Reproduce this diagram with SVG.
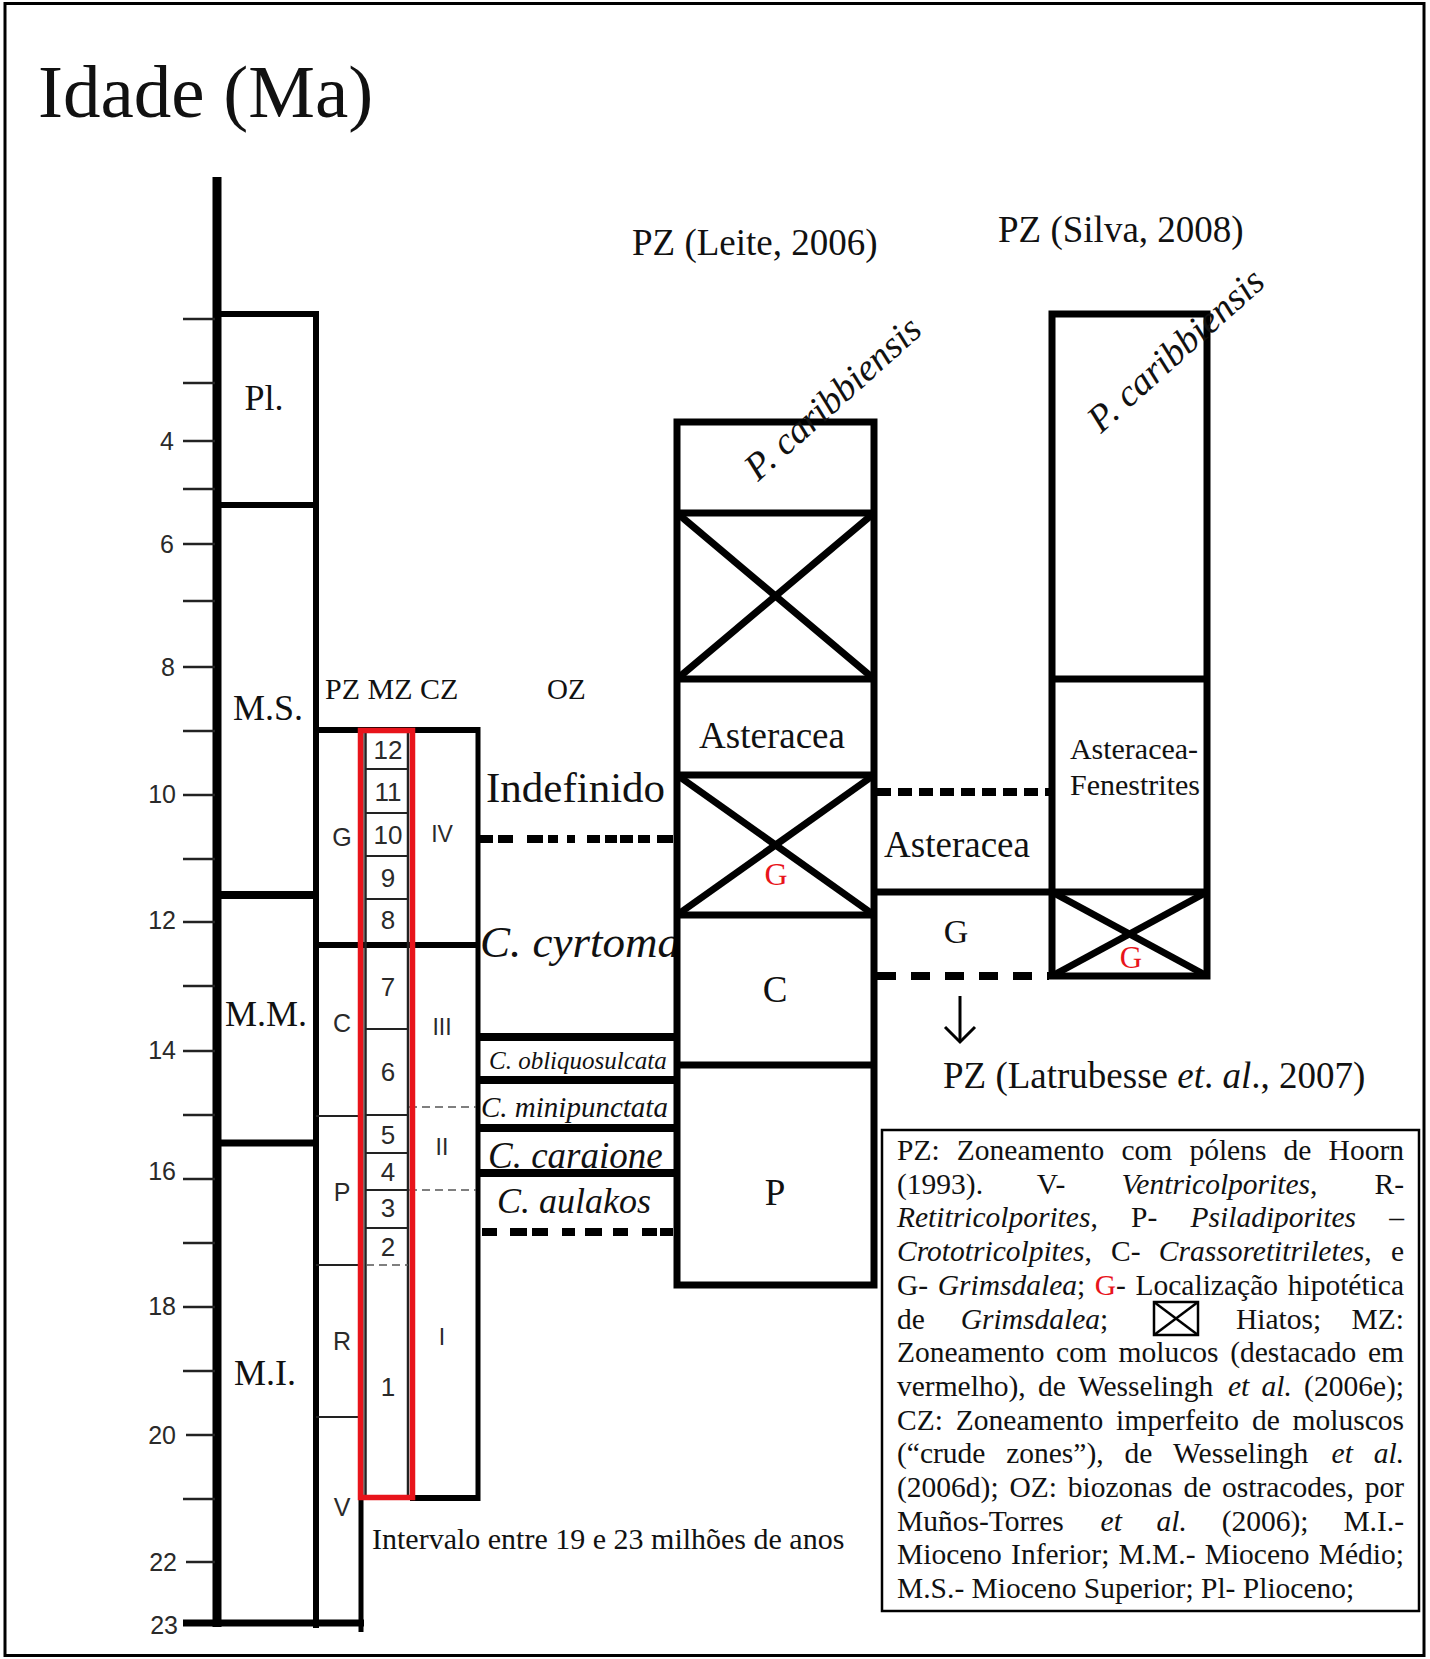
<svg xmlns="http://www.w3.org/2000/svg" width="1430" height="1659" viewBox="0 0 1430 1659">
<style>
.s{font-family:"Liberation Serif","Times New Roman",serif;fill:#111}
.a{font-family:"Liberation Sans",Arial,sans-serif;fill:#2a2a2a}
.i{font-style:italic}
.k{stroke:#000;fill:none}
.tk{stroke:#222;stroke-width:2.5}
.thin{stroke:#222;stroke-width:2;fill:none}
.gd{stroke:#555;stroke-width:1.6;stroke-dasharray:8 5;fill:none}
.red{fill:#e8141b}
.mid{text-anchor:middle}
.end{text-anchor:end}
</style>
<rect width="1430" height="1659" fill="#fff"/>
<rect id="frame" x="5" y="3.5" width="1419" height="1652" fill="none" stroke="#000" stroke-width="3"/>
<text id="title" class="s" x="38" y="117" font-size="75">Idade (Ma)</text>

<g id="axis">
<line class="k" x1="217" y1="177" x2="217" y2="1627" stroke-width="9"/>
<g class="tk">
<line x1="183" y1="319" x2="215" y2="319"/><line x1="183" y1="383" x2="215" y2="383"/><line x1="183" y1="441" x2="215" y2="441"/><line x1="183" y1="489" x2="215" y2="489"/><line x1="183" y1="544" x2="215" y2="544"/><line x1="183" y1="601" x2="215" y2="601"/><line x1="183" y1="667" x2="215" y2="667"/><line x1="183" y1="731" x2="215" y2="731"/><line x1="183" y1="795" x2="215" y2="795"/><line x1="183" y1="859" x2="215" y2="859"/><line x1="183" y1="922" x2="215" y2="922"/><line x1="183" y1="986" x2="215" y2="986"/><line x1="183" y1="1051" x2="215" y2="1051"/><line x1="183" y1="1115" x2="215" y2="1115"/><line x1="183" y1="1179" x2="215" y2="1179"/><line x1="183" y1="1243" x2="215" y2="1243"/><line x1="183" y1="1307" x2="215" y2="1307"/><line x1="183" y1="1371" x2="215" y2="1371"/><line x1="186" y1="1435" x2="215" y2="1435"/><line x1="183" y1="1499" x2="215" y2="1499"/><line x1="186" y1="1562" x2="215" y2="1562"/>
</g>
<g class="a" font-size="25">
<text class="mid" x="167" y="450">4</text><text class="mid" x="167" y="553">6</text><text class="mid" x="168" y="676">8</text>
<text class="end" x="176" y="803">10</text><text class="end" x="176" y="929">12</text><text class="end" x="176" y="1059">14</text><text class="end" x="176" y="1180">16</text><text class="end" x="176" y="1315">18</text><text class="end" x="176" y="1444">20</text><text class="end" x="177" y="1571">22</text><text class="end" x="178" y="1634">23</text>
</g>
</g>

<g id="epochs">
<line class="k" x1="316" y1="311" x2="316" y2="1628" stroke-width="6"/>
<line class="k" x1="217" y1="314" x2="316" y2="314" stroke-width="6"/>
<line class="k" x1="217" y1="505" x2="316" y2="505" stroke-width="6"/>
<line class="k" x1="217" y1="895" x2="316" y2="895" stroke-width="8"/>
<line class="k" x1="217" y1="1143" x2="316" y2="1143" stroke-width="7"/>
<line class="k" x1="183" y1="1623" x2="364" y2="1623" stroke-width="7"/>
<g class="s mid" font-size="36" fill="#222">
<text x="264" y="410">Pl.</text><text x="268" y="720">M.S.</text><text x="266" y="1026">M.M.</text><text x="265" y="1385">M.I.</text>
</g>
</g>

<g id="zones">
<text class="s" x="325" y="699" font-size="30">PZ MZ CZ</text>
<line class="k" x1="361" y1="730" x2="361" y2="1632" stroke-width="5"/>
<line class="k" x1="316" y1="730" x2="480" y2="730" stroke-width="6"/>
<line class="k" x1="316" y1="945" x2="478" y2="945" stroke-width="6"/>
<line class="k" x1="478" y1="727" x2="478" y2="1501" stroke-width="5"/>
<line class="k" x1="410" y1="1498" x2="480" y2="1498" stroke-width="6"/>
<g class="thin">
<line x1="316" y1="1116" x2="360" y2="1116"/><line x1="316" y1="1265" x2="360" y2="1265"/><line x1="316" y1="1417" x2="360" y2="1417"/>
<line x1="365.5" y1="733" x2="365.5" y2="1495" stroke-width="2.5"/><line x1="408" y1="733" x2="408" y2="1495" stroke-width="2.5"/>
<line x1="365" y1="769" x2="408" y2="769"/><line x1="365" y1="813" x2="408" y2="813"/><line x1="365" y1="856" x2="408" y2="856"/><line x1="365" y1="899" x2="408" y2="899"/><line x1="365" y1="1029" x2="408" y2="1029"/><line x1="365" y1="1115" x2="408" y2="1115"/><line x1="365" y1="1153" x2="408" y2="1153"/><line x1="365" y1="1190" x2="408" y2="1190"/><line x1="365" y1="1228" x2="408" y2="1228"/>
</g>
<line class="gd" x1="366" y1="1265" x2="408" y2="1265" stroke-dasharray="6 4"/>
<line class="gd" x1="409" y1="1107" x2="476" y2="1107"/>
<line class="gd" x1="409" y1="1190" x2="476" y2="1190"/>
<rect id="mz-highlight" x="360.5" y="730.5" width="52" height="767" fill="none" stroke="#e8141b" stroke-width="5.5"/>
<g class="a mid" font-size="25">
<text x="342" y="846">G</text><text x="342" y="1032">C</text><text x="342" y="1201">P</text><text x="342" y="1350">R</text><text x="342" y="1516">V</text>
</g>
<g class="a mid" font-size="26">
<text x="388" y="759">12</text><text x="388" y="801">11</text><text x="388" y="844">10</text><text x="388" y="887">9</text><text x="388" y="929">8</text><text x="388" y="996">7</text><text x="388" y="1081">6</text><text x="388" y="1144">5</text><text x="388" y="1181">4</text><text x="388" y="1217">3</text><text x="388" y="1256">2</text><text x="388" y="1396">1</text>
</g>
<g class="a mid" font-size="23">
<text x="442" y="842">IV</text><text x="442" y="1035">III</text><text x="442" y="1155">II</text><text x="442" y="1345">I</text>
</g>
<text class="s" x="372" y="1549" font-size="30">Intervalo entre 19 e 23 milhões de anos</text>
</g>

<g id="ostracode-zones">
<text class="s" x="547" y="699" font-size="29">OZ</text>
<text class="s" x="486" y="802" font-size="43">Indefinido</text>
<text class="s i" x="480" y="957" font-size="45">C. cyrtoma</text>
<line class="k" x1="478" y1="1037" x2="676" y2="1037" stroke-width="8"/>
<line class="k" x1="478" y1="1080" x2="676" y2="1080" stroke-width="8"/>
<line class="k" x1="478" y1="1128" x2="676" y2="1128" stroke-width="8"/>
<line class="k" x1="478" y1="1173" x2="676" y2="1173" stroke-width="8"/>
<text class="s i" x="489" y="1069" font-size="25">C. obliquosulcata</text>
<text class="s i" x="481" y="1117" font-size="29">C. minipunctata</text>
<text class="s i" x="488" y="1168" font-size="37">C. caraione</text>
<text class="s i" x="497" y="1213" font-size="36">C. aulakos</text>
</g>

<g id="pz-leite">
<text class="s" x="632" y="255" font-size="37">PZ (Leite, 2006)</text>
<rect class="k" x="677" y="422" width="197" height="863" stroke-width="7"/>
<g class="k" stroke-width="7">
<line x1="677" y1="513" x2="874" y2="513"/><line x1="677" y1="679" x2="874" y2="679"/><line x1="677" y1="775" x2="874" y2="775"/><line x1="677" y1="915" x2="874" y2="915"/><line x1="677" y1="1065" x2="874" y2="1065"/>
<line x1="677" y1="513" x2="874" y2="679"/><line x1="874" y1="513" x2="677" y2="679"/>
<line x1="677" y1="775" x2="874" y2="915"/><line x1="874" y1="775" x2="677" y2="915"/>
</g>
<text class="s i" x="758" y="482" font-size="38" transform="rotate(-42 758 482)">P. caribbiensis</text>
<text class="s mid" x="772" y="748" font-size="37">Asteracea</text>
<text class="s mid red" x="776" y="885" font-size="32">G</text>
<text class="s mid" x="775" y="1002" font-size="37">C</text>
<text class="s mid" x="775" y="1205" font-size="37">P</text>
</g>

<g id="pz-silva">
<text class="s" x="998" y="242" font-size="37">PZ (Silva, 2008)</text>
<rect class="k" x="1052" y="314" width="155" height="662" stroke-width="7"/>
<g class="k" stroke-width="7">
<line x1="1052" y1="679" x2="1207" y2="679"/><line x1="873" y1="892" x2="1207" y2="892"/>
<line x1="1052" y1="892" x2="1207" y2="976"/><line x1="1207" y1="892" x2="1052" y2="976"/>
</g>
<text class="s i" x="1101" y="434" font-size="38" transform="rotate(-42 1101 434)">P. caribbiensis</text>
<text class="s mid" x="1134" y="759" font-size="30">Asteracea-</text>
<text class="s mid" x="1135" y="795" font-size="30">Fenestrites</text>
<text class="s mid red" x="1131" y="968" font-size="31">G</text>
<text class="s mid" x="957" y="857" font-size="37">Asteracea</text>
<text class="s mid" x="956" y="943" font-size="34">G</text>
<text class="s" x="943" y="1088" font-size="37">PZ (Latrubesse <tspan class="i">et</tspan>. <tspan class="i">al</tspan>., 2007)</text>
</g>

<g id="connectors" fill="none" stroke="#000">
<line x1="480" y1="839" x2="674" y2="839" stroke-width="8" stroke-dasharray="13 5 15 14 16 5 10 9 8 12 13 5 12 3 13 5 12 7 16 10"/>
<line x1="482" y1="1232" x2="675" y2="1232" stroke-width="8" stroke-dasharray="15 13 17 5 16 14 13 10 17 11 15 14 15 3 13 10"/>
<line x1="877" y1="792" x2="1049" y2="792" stroke-width="8" stroke-dasharray="14 7"/>
<line x1="877" y1="976" x2="1049" y2="976" stroke-width="8" stroke-dasharray="19 15"/>
<line x1="960" y1="996" x2="960" y2="1041" stroke-width="3"/>
<polyline points="945,1027 960,1042 975,1027" stroke-width="3"/>
</g>

<g id="legend">
<rect x="882" y="1130" width="537" height="481" fill="#fff" stroke="#000" stroke-width="2.5"/>
<g class="s" font-size="29.5" fill="#000">
<text y="1160"><tspan x="897">PZ:</tspan><tspan x="956.8">Zoneamento</tspan><tspan x="1121.4">com</tspan><tspan x="1189.4">pólens</tspan><tspan x="1283.6">de</tspan><tspan x="1328.6">Hoorn</tspan></text>
<text y="1193.7"><tspan x="897">(1993).</tspan><tspan x="1036.8">V-</tspan><tspan x="1121.6" class="i">Ventricolporites</tspan><tspan>,</tspan><tspan x="1374.5">R-</tspan></text>
<text y="1227.4"><tspan x="897" class="i">Retitricolporites</tspan><tspan>,</tspan><tspan x="1131">P-</tspan><tspan x="1190.5" class="i">Psiladiporites</tspan><tspan x="1389.3">–</tspan></text>
<text y="1261.1"><tspan x="897" class="i">Crototricolpites</tspan><tspan>,</tspan><tspan x="1111.1">C-</tspan><tspan x="1158.8" class="i">Crassoretitriletes</tspan><tspan>,</tspan><tspan x="1390.9">e</tspan></text>
<text y="1294.8"><tspan x="897">G-</tspan><tspan x="937.7" class="i">Grimsdalea</tspan><tspan>;</tspan><tspan x="1094.8" fill="#e8141b">G</tspan><tspan>-</tspan><tspan x="1135.5">Localização</tspan><tspan x="1287.7">hipotética</tspan></text>
<text y="1328.5"><tspan x="897">de</tspan><tspan x="960.8" class="i">Grimsdalea</tspan><tspan>;</tspan><tspan x="1236">Hiatos;</tspan><tspan x="1351.6">MZ:</tspan></text>
<text y="1362.2"><tspan x="897">Zoneamento</tspan><tspan x="1056.1">com</tspan><tspan x="1118.6">molucos</tspan><tspan x="1230.2">(destacado</tspan><tspan x="1368">em</tspan></text>
<text y="1395.9"><tspan x="897">vermelho),</tspan><tspan x="1037.9">de</tspan><tspan x="1078">Wesselingh</tspan><tspan x="1227.9" class="i">et</tspan><tspan x="1261.5" class="i">al.</tspan><tspan x="1304.1">(2006e);</tspan></text>
<text y="1429.6"><tspan x="897">CZ:</tspan><tspan x="955.8">Zoneamento</tspan><tspan x="1116.1">imperfeito</tspan><tspan x="1251.9">de</tspan><tspan x="1292.6">moluscos</tspan></text>
<text y="1463.3"><tspan x="897">(“crude</tspan><tspan x="1006.2">zones”),</tspan><tspan x="1124.5">de</tspan><tspan x="1173.1">Wesselingh</tspan><tspan x="1331.6" class="i">et</tspan><tspan x="1373.7" class="i">al.</tspan></text>
<text y="1497"><tspan x="897">(2006d);</tspan><tspan x="1009.4">OZ:</tspan><tspan x="1067.7">biozonas</tspan><tspan x="1183.4">de</tspan><tspan x="1222">ostracodes,</tspan><tspan x="1364.7">por</tspan></text>
<text y="1530.7"><tspan x="897">Muños-Torres</tspan><tspan x="1100.6" class="i">et</tspan><tspan x="1156.6" class="i">al.</tspan><tspan x="1221.7">(2006);</tspan><tspan x="1343.4">M.I.-</tspan></text>
<text y="1564.4"><tspan x="897">Mioceno</tspan><tspan x="1011.1">Inferior;</tspan><tspan x="1118.5">M.M.-</tspan><tspan x="1204.7">Mioceno</tspan><tspan x="1318.8">Médio;</tspan></text>
<text x="897" y="1598.1">M.S.- Mioceno Superior; Pl- Plioceno;</text>
</g>
<g id="hiatus-symbol" stroke="#000" stroke-width="2.5" fill="none">
<rect x="1154" y="1302" width="44" height="33"/>
<line x1="1154" y1="1302" x2="1198" y2="1335"/><line x1="1198" y1="1302" x2="1154" y2="1335"/>
</g>
</g>
</svg>
